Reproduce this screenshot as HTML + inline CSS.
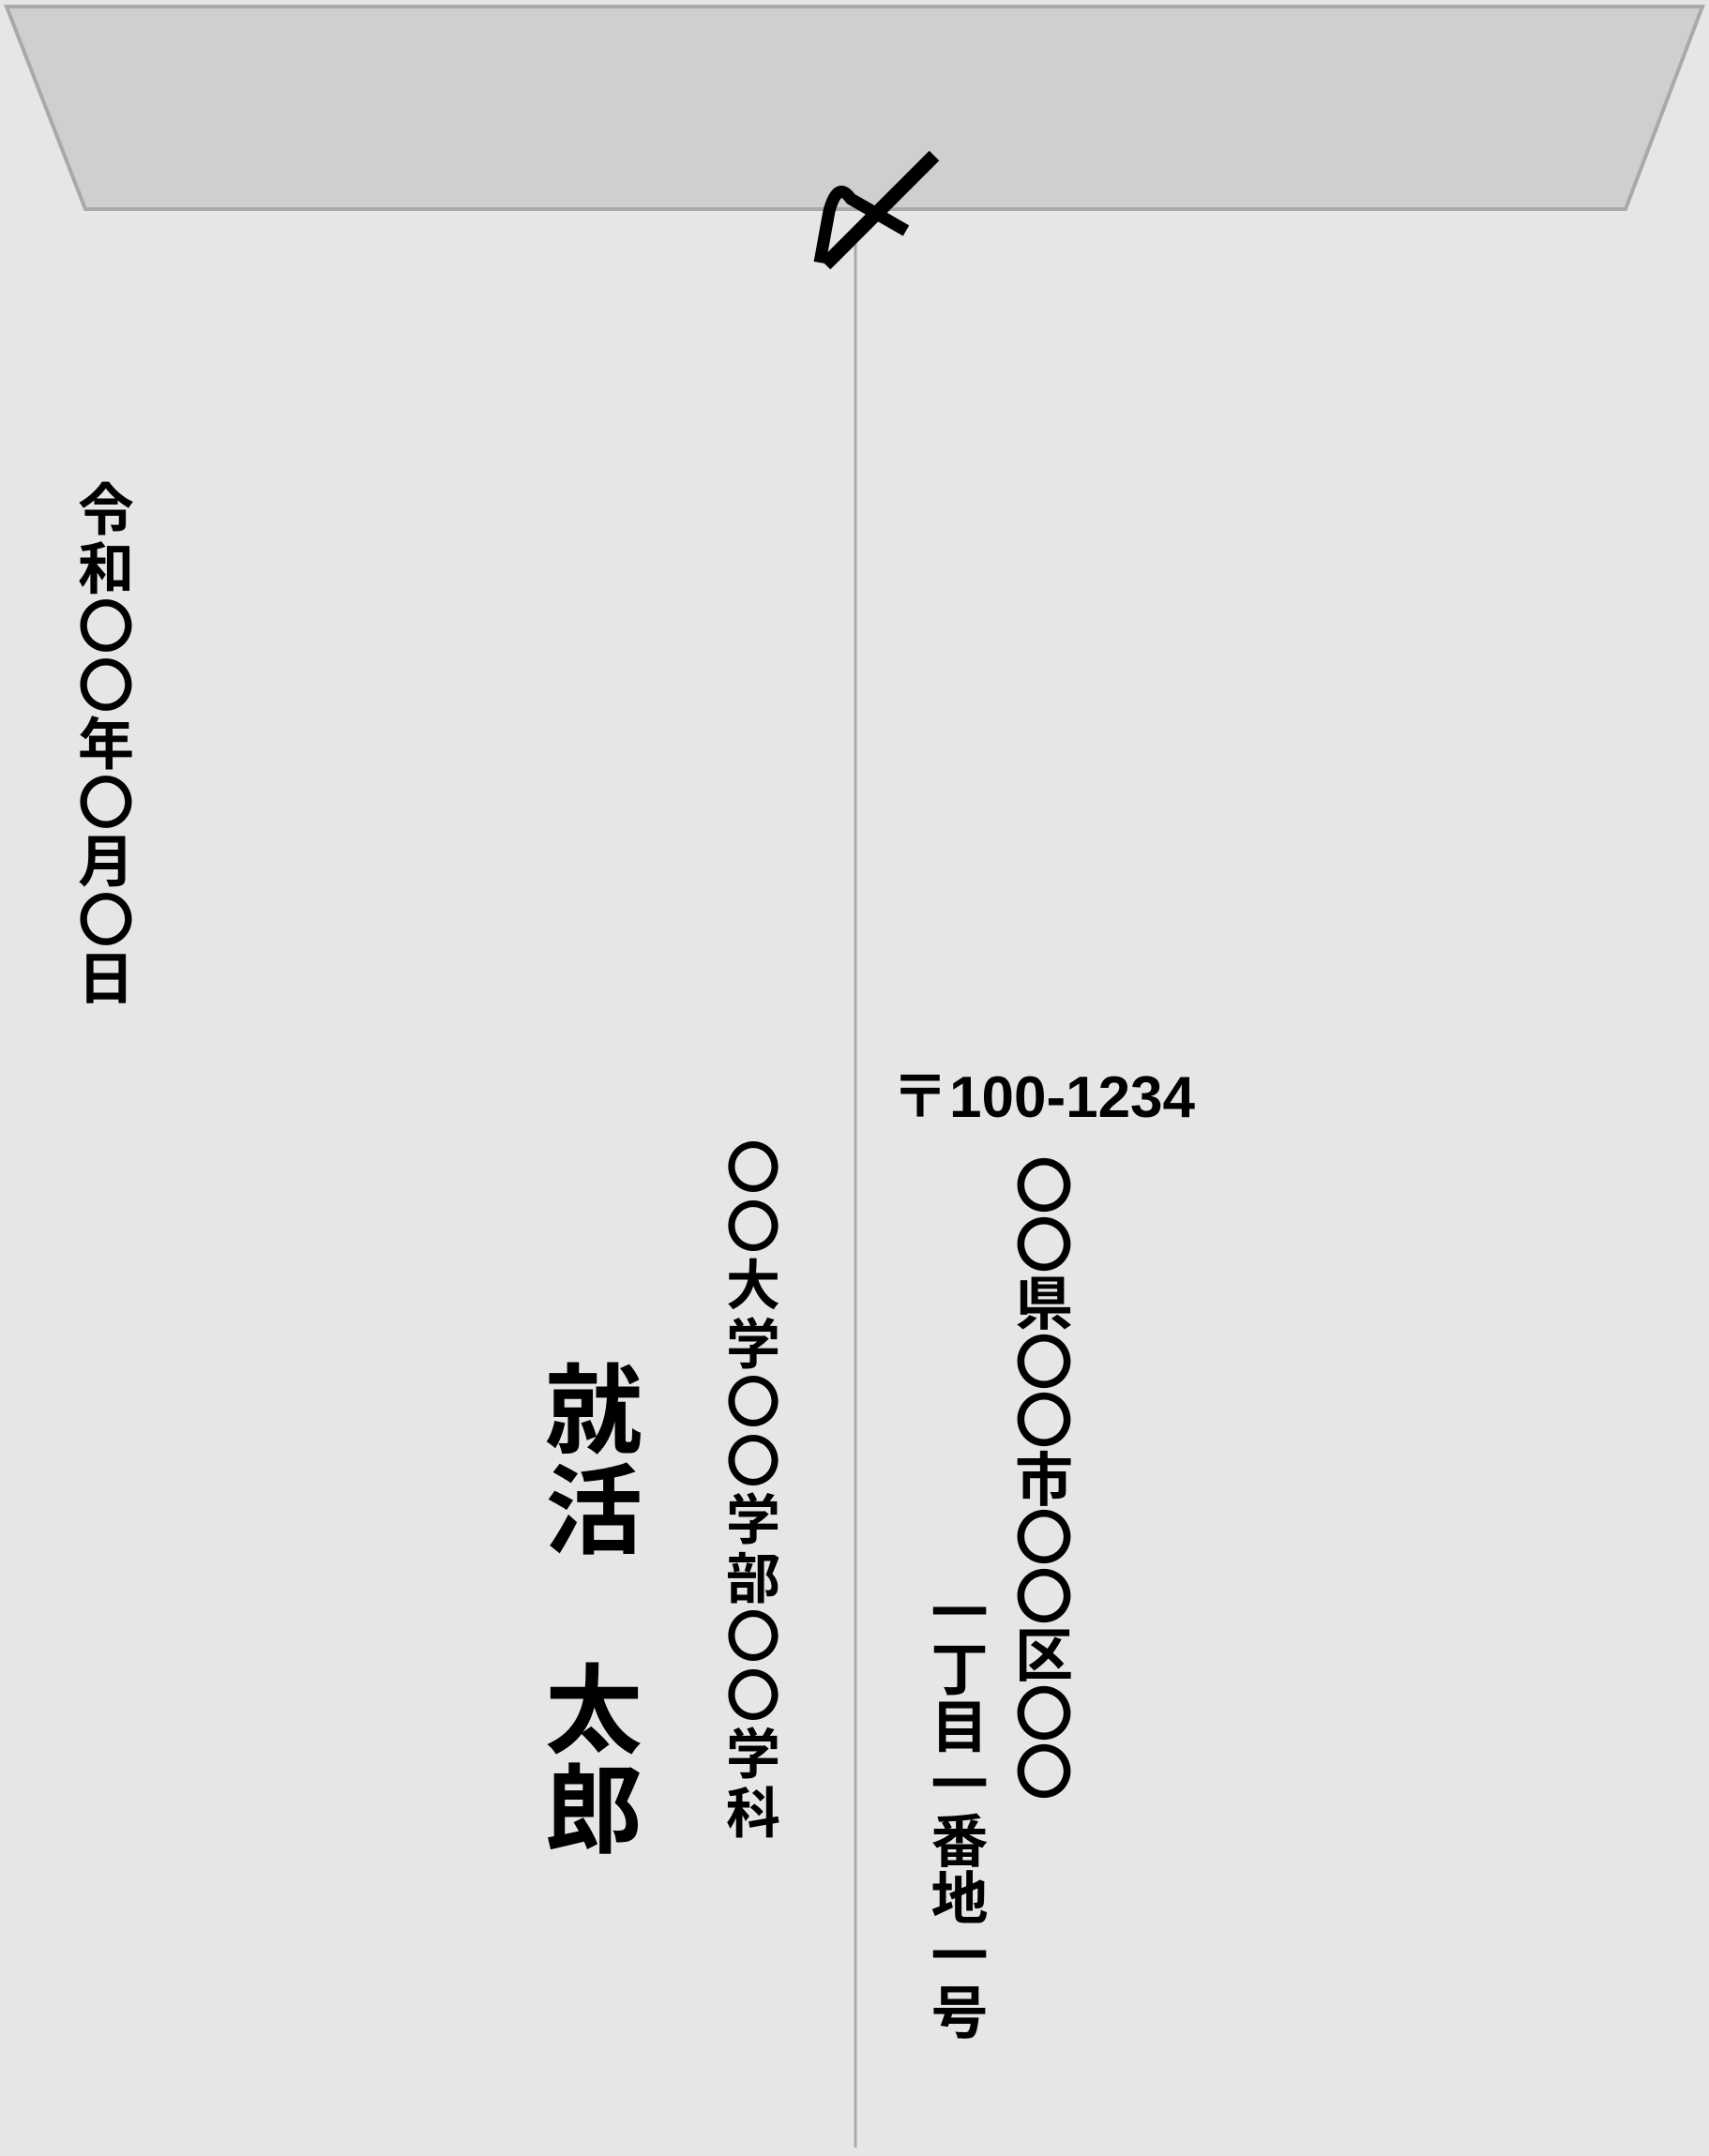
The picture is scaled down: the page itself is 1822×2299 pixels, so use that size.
<!DOCTYPE html>
<html><head><meta charset="utf-8">
<style>
html,body{margin:0;padding:0;}
body{width:1822px;height:2299px;background:#e6e6e6;position:relative;overflow:hidden;
font-family:"Liberation Sans","Noto Sans CJK JP",sans-serif;font-weight:bold;color:#000;}
.c{position:absolute;display:flex;flex-direction:column;}
.c span{display:block;text-align:center;white-space:nowrap;}
.d span{height:62.5px;line-height:62.5px}
.u span{height:62.5px;line-height:62.5px}
.n span{height:106.5px;line-height:106.5px}
.a span{height:62.5px;line-height:62.5px}
.b span{height:61px;line-height:61px}
</style></head><body>
<svg width="1822" height="2299" style="position:absolute;left:0;top:0">
<polygon points="7,7 1815,7 1733,223 91,223" fill="#d0cfd0" stroke="#aaa8a8" stroke-width="4"/>
<line x1="912" y1="250" x2="912" y2="2290" stroke="#aaa" stroke-width="3"/>
<path d="M874,280 L884,225 Q893,192 907,212 L966,246" fill="none" stroke="#000" stroke-width="13" stroke-linejoin="round"/>
<path d="M880,282 L996,166" fill="none" stroke="#000" stroke-width="15"/>
</svg>
<div class="c d" style="left:73px;top:514px;width:80px;font-size:60px;">
<span>令</span><span>和</span><span>〇</span><span>〇</span><span>年</span><span>〇</span><span>月</span><span>〇</span><span>日</span>
</div>
<div class="c u" style="left:763px;top:1216px;width:80px;font-size:58px;">
<span>〇</span><span>〇</span><span>大</span><span>学</span><span>〇</span><span>〇</span><span>学</span><span>部</span><span>〇</span><span>〇</span><span>学</span><span>科</span>
</div>
<div class="c n" style="left:573px;top:1453px;width:120px;font-size:104px;">
<span>就</span><span>活</span><span>　</span><span>太</span><span>郎</span>
</div>
<div style="position:absolute;left:950px;top:1140px;font-size:62px;line-height:1;white-space:nowrap;">〒100-1234</div>
<div class="c a" style="left:1073px;top:1236px;width:80px;font-size:62px;">
<span>〇</span><span>〇</span><span>県</span><span>〇</span><span>〇</span><span>市</span><span>〇</span><span>〇</span><span>区</span><span>〇</span><span>〇</span>
</div>
<div class="c b" style="left:983px;top:1690px;width:80px;font-size:61px;">
<span>一</span><span>丁</span><span>目</span><span>一</span><span>番</span><span>地</span><span>一</span><span>号</span>
</div>
</body></html>
